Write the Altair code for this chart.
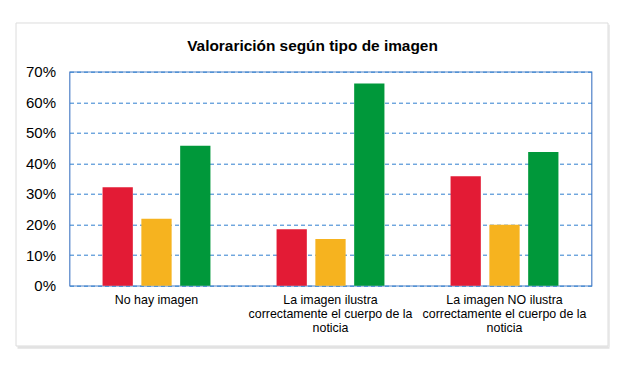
import altair as alt
import pandas as pd

title_text = "Valorarición según tipo de imagen"
categories = [
    "No hay imagen",
    "La imagen ilustra correctamente el cuerpo de la noticia",
    "La imagen NO ilustra correctamente el cuerpo de la noticia",
]
label_lines = [
    ["No hay imagen"],
    ["La imagen ilustra", "correctamente el cuerpo de la", "noticia"],
    ["La imagen NO ilustra", "correctamente el cuerpo de la", "noticia"],
]
series = ["Negativa", "Neutra", "Positiva"]
negativa = [0.322, 0.185, 0.358]
neutra = [0.219, 0.153, 0.199]
positiva = [0.458, 0.661, 0.437]
colors = ["#E31B35", "#F6B31F", "#00983A"]
y_ticks = [0, 0.1, 0.2, 0.3, 0.4, 0.5, 0.6, 0.7]

rows = []
for i, c in enumerate(categories):
    for s, vals in zip(series, [negativa, neutra, positiva]):
        rows.append({"cat": c, "serie": s, "valor": vals[i]})
df = pd.DataFrame(rows)

# label expression: multi-line labels
expr = "''"
for c, lines in reversed(list(zip(categories, label_lines))):
    arr = "[" + ",".join("'" + l + "'" for l in lines) + "]"
    expr = f"datum.value == '{c}' ? {arr} : ({expr})"

FONT = "Liberation Sans"

bars = alt.Chart(df).mark_bar().encode(
    x=alt.X(
        "cat:N",
        sort=categories,
        scale=alt.Scale(paddingInner=0.38, paddingOuter=0.19),
        axis=alt.Axis(
            title=None, labelExpr=expr, ticks=False, domain=False, labelAngle=0,
            labelFontSize=12.4, labelLineHeight=14, labelPadding=8, labelLimit=1000,
            labelColor="black", labelFont=FONT, grid=False,
        ),
    ),
    xOffset=alt.XOffset("serie:N", sort=series, scale=alt.Scale(paddingInner=0.22)),
    y=alt.Y(
        "valor:Q",
        scale=alt.Scale(domain=[0, 0.7], nice=False),
        axis=alt.Axis(
            values=y_ticks, format=".0%", title=None, grid=True, gridDash=[4, 3],
            gridColor="#2F7FCF", gridWidth=1, ticks=False, domain=False,
            labelFontSize=15, labelPadding=14, labelColor="black", labelFont=FONT,
        ),
    ),
    color=alt.Color("serie:N", sort=series, scale=alt.Scale(domain=series, range=colors), legend=None),
)

one = pd.DataFrame({"k": [0]})

frame = alt.Chart(one).mark_rect(fillOpacity=0, stroke="#DCDCDC", strokeWidth=1).encode(
    x=alt.value(-53.5), x2=alt.value(538.5), y=alt.value(-48.7), y2=alt.value(274.3)
)
shadow_b = alt.Chart(one).mark_rule(color="#E2E2E2", strokeWidth=2.5).encode(
    x=alt.value(-52), x2=alt.value(540), y=alt.value(275.8)
)
shadow_r = alt.Chart(one).mark_rule(color="#E8E8E8", strokeWidth=1.5).encode(
    x=alt.value(539.6), y=alt.value(-47), y2=alt.value(275)
)
title = alt.Chart(one).mark_text(
    fontSize=15.4, fontWeight="bold", font=FONT, color="black", baseline="middle", align="center"
).encode(x=alt.value(243), y=alt.value(-26), text=alt.value(title_text))

chart = alt.layer(shadow_b, shadow_r, frame, bars, title).properties(
    width=522,
    height=214,
    autosize=alt.AutoSizeParams(type="none"),
    padding={"left": 61.5, "top": 63.7, "right": 22.5, "bottom": 79.3},
    background="white",
).configure_view(stroke="#4F81C7", strokeWidth=1.2)

chart.save("out.html", embed_options={"renderer": "svg", "actions": False})
